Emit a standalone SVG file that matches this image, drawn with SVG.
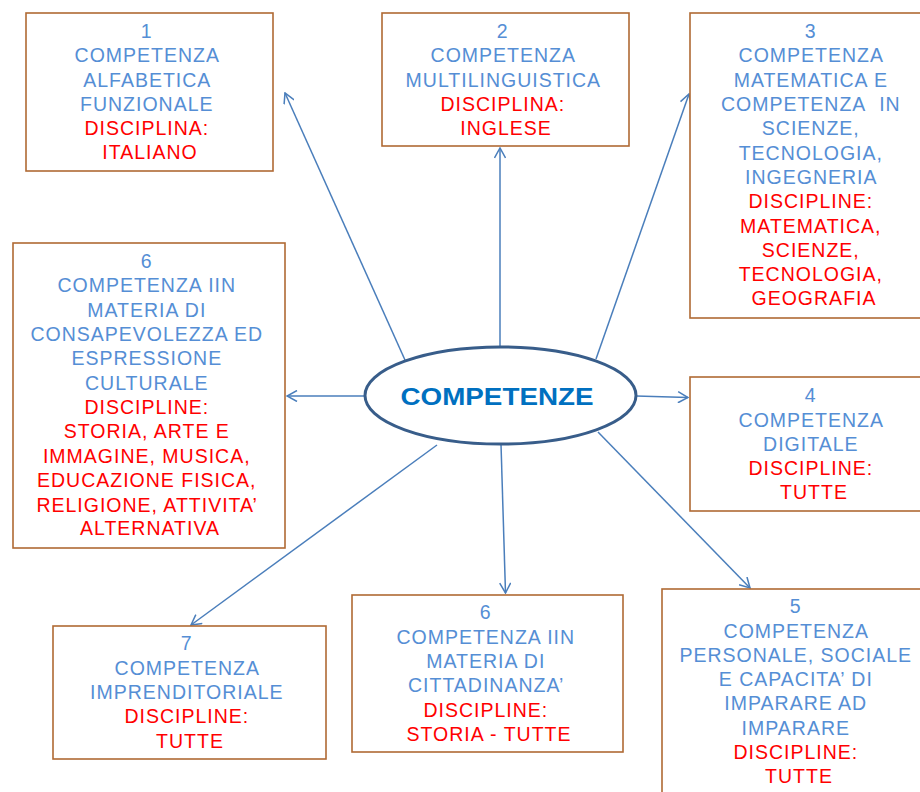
<svg xmlns="http://www.w3.org/2000/svg" width="920" height="792" viewBox="0 0 920 792">
<defs>
<style>
.box{fill:#fff;stroke:#B06A34;stroke-width:1.6}
.t{font-family:"Liberation Sans",Arial,sans-serif;font-size:19.5px;letter-spacing:1px;text-anchor:middle}
.b{fill:#558ED5}
.r{fill:#FF0000}
.conn line{stroke:#4A7EBB;stroke-width:1.5;fill:none;marker-end:url(#arr)}
.title{font-family:"Liberation Sans",Arial,sans-serif;font-size:23px;font-weight:bold;fill:#0070C0;text-anchor:middle}
</style>
<marker id="arr" viewBox="-11 -6 12 12" refX="0" refY="0" markerWidth="12" markerHeight="12" markerUnits="userSpaceOnUse" orient="auto">
<path d="M-10,-5.5 L0,0 L-10,5.5" fill="none" stroke="#4A7EBB" stroke-width="1.5"/>
</marker>
</defs>
<rect width="920" height="792" fill="#fff"/>

<g id="connectors" class="conn">
<line x1="405" y1="360" x2="285" y2="93"/>
<line x1="500" y1="347" x2="500" y2="148"/>
<line x1="596" y1="359" x2="689" y2="94"/>
<line x1="636" y1="396" x2="688" y2="397.5"/>
<line x1="598" y1="432" x2="750" y2="588"/>
<line x1="501" y1="444" x2="505.5" y2="593"/>
<line x1="437" y1="445" x2="191" y2="625"/>
<line x1="365" y1="396" x2="287" y2="396"/>
</g>

<g id="center">
<ellipse cx="500.5" cy="395.5" rx="135.5" ry="48.5" fill="#fff" stroke="#385D8A" stroke-width="3"/>
<text class="title" x="497" y="405" textLength="193" lengthAdjust="spacingAndGlyphs">COMPETENZE</text>
</g>

<g id="node1">
<rect class="box" x="26" y="13" width="247" height="158"/>
<text class="t">
<tspan class="b" x="150" y="38">1</tspan>
<tspan class="b" x="150" y="62">COMPETENZA</tspan>
<tspan class="b" x="150" y="87">ALFABETICA</tspan>
<tspan class="b" x="150" y="111">FUNZIONALE</tspan>
<tspan class="r" x="150" y="135">DISCIPLINA:</tspan>
<tspan class="r" x="150" y="159">ITALIANO</tspan>
</text>
</g>

<g id="node2">
<rect class="box" x="382" y="13" width="247" height="133"/>
<text class="t">
<tspan class="b" x="506" y="38">2</tspan>
<tspan class="b" x="506" y="62">COMPETENZA</tspan>
<tspan class="b" x="506" y="87">MULTILINGUISTICA</tspan>
<tspan class="r" x="506" y="111">DISCIPLINA:</tspan>
<tspan class="r" x="506" y="135">INGLESE</tspan>
</text>
</g>

<g id="node3">
<rect class="box" x="690" y="13" width="246" height="305"/>
<text class="t">
<tspan class="b" x="814" y="38">3</tspan>
<tspan class="b" x="814" y="62">COMPETENZA</tspan>
<tspan class="b" x="814" y="87">MATEMATICA E</tspan>
<tspan class="b" x="814" y="111">COMPETENZA&#160; IN</tspan>
<tspan class="b" x="814" y="135">SCIENZE,</tspan>
<tspan class="b" x="814" y="160">TECNOLOGIA,</tspan>
<tspan class="b" x="814" y="184">INGEGNERIA</tspan>
<tspan class="r" x="814" y="208">DISCIPLINE:</tspan>
<tspan class="r" x="814" y="233">MATEMATICA,</tspan>
<tspan class="r" x="814" y="257">SCIENZE,</tspan>
<tspan class="r" x="814" y="281">TECNOLOGIA,</tspan>
<tspan class="r" x="814" y="305">GEOGRAFIA</tspan>
</text>
</g>

<g id="node4">
<rect class="box" x="690" y="377" width="246" height="134"/>
<text class="t">
<tspan class="b" x="814" y="402">4</tspan>
<tspan class="b" x="814" y="427">COMPETENZA</tspan>
<tspan class="b" x="814" y="451">DIGITALE</tspan>
<tspan class="r" x="814" y="475">DISCIPLINE:</tspan>
<tspan class="r" x="814" y="499">TUTTE</tspan>
</text>
</g>

<g id="node5">
<rect class="box" x="662" y="589" width="272" height="220"/>
<text class="t">
<tspan class="b" x="799" y="613">5</tspan>
<tspan class="b" x="799" y="638">COMPETENZA</tspan>
<tspan class="b" x="799" y="662">PERSONALE, SOCIALE</tspan>
<tspan class="b" x="799" y="686">E CAPACITA’ DI</tspan>
<tspan class="b" x="799" y="710">IMPARARE AD</tspan>
<tspan class="b" x="799" y="735">IMPARARE</tspan>
<tspan class="r" x="799" y="759">DISCIPLINE:</tspan>
<tspan class="r" x="799" y="783">TUTTE</tspan>
</text>
</g>

<g id="node6a">
<rect class="box" x="13" y="243" width="272" height="305"/>
<text class="t">
<tspan class="b" x="150" y="268">6</tspan>
<tspan class="b" x="150" y="292">COMPETENZA IIN</tspan>
<tspan class="b" x="150" y="317">MATERIA DI</tspan>
<tspan class="b" x="150" y="341">CONSAPEVOLEZZA ED</tspan>
<tspan class="b" x="150" y="365">ESPRESSIONE</tspan>
<tspan class="b" x="150" y="390">CULTURALE</tspan>
<tspan class="r" x="150" y="414">DISCIPLINE:</tspan>
<tspan class="r" x="150" y="438">STORIA, ARTE E</tspan>
<tspan class="r" x="150" y="463">IMMAGINE, MUSICA,</tspan>
<tspan class="r" x="150" y="487">EDUCAZIONE FISICA,</tspan>
<tspan class="r" x="150" y="512">RELIGIONE, ATTIVITA’</tspan>
<tspan class="r" x="150" y="535">ALTERNATIVA</tspan>
</text>
</g>

<g id="node6b">
<rect class="box" x="352" y="595" width="271" height="157"/>
<text class="t">
<tspan class="b" x="489" y="619">6</tspan>
<tspan class="b" x="489" y="644">COMPETENZA IIN</tspan>
<tspan class="b" x="489" y="668">MATERIA DI</tspan>
<tspan class="b" x="489" y="692">CITTADINANZA’</tspan>
<tspan class="r" x="489" y="717">DISCIPLINE:</tspan>
<tspan class="r" x="489" y="741">STORIA - TUTTE</tspan>
</text>
</g>

<g id="node7">
<rect class="box" x="53" y="626" width="273" height="133"/>
<text class="t">
<tspan class="b" x="190" y="650">7</tspan>
<tspan class="b" x="190" y="675">COMPETENZA</tspan>
<tspan class="b" x="190" y="699">IMPRENDITORIALE</tspan>
<tspan class="r" x="190" y="723">DISCIPLINE:</tspan>
<tspan class="r" x="190" y="748">TUTTE</tspan>
</text>
</g>
</svg>
